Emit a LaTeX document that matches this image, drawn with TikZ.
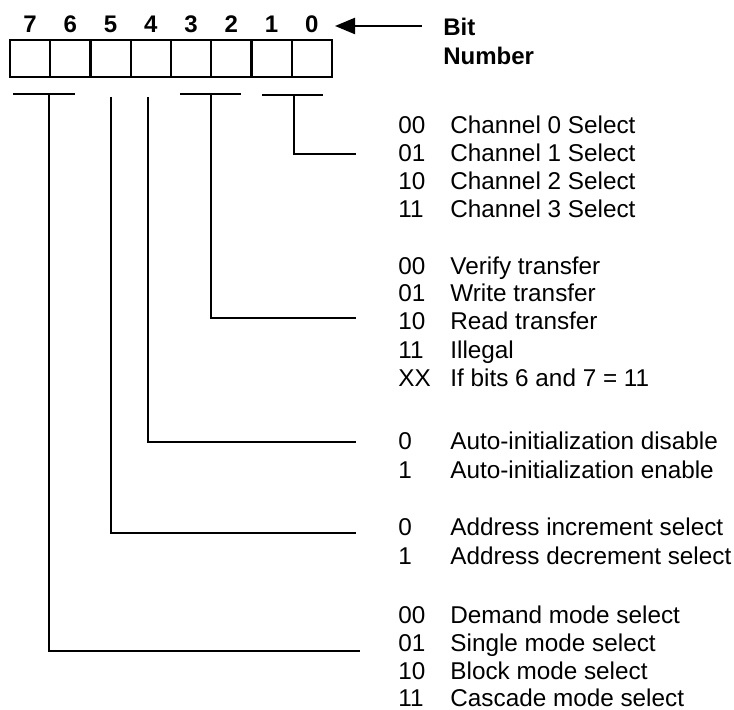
\documentclass[tikz,border=0pt]{standalone}
\usepackage{fontspec}
\setmainfont{Liberation Sans}
\usetikzlibrary{arrows.meta}
\begin{document}
\begin{tikzpicture}[x=0.5pt,y=-0.5pt,
  ln/.style={line width=1.15pt},
  cell/.style={draw,line width=1.05pt,minimum width=20.125pt,minimum height=18.5pt,inner sep=0pt},
  bitlbl/.style={font=\fontsize{12}{14}\selectfont\bfseries,anchor=base,inner sep=0pt},
  hdr/.style={font=\fontsize{12}{14}\selectfont\bfseries,anchor=base west,inner sep=0pt},
  txt/.style={font=\fontsize{12.15}{14}\selectfont,anchor=base west,inner sep=0pt},
  ]
\useasboundingbox (0,0) rectangle (734,710);
% register
\foreach \b [count=\i from 0] in {7,6,5,4,3,2,1,0}{
  \node[cell] (c\b) at ({30.125+40.25*\i},58.5) {};
  \node[bitlbl] (n\b) at ({30.125+40.25*\i},33) {\b};
}
% Bit Number label and arrow
\node[hdr] (bit) at (443,36) {Bit};
\node[hdr] (num) at (443,65) {Number};
\coordinate (arS) at (422,26);
\coordinate (arE) at (335,26);
\draw[ln,-{Triangle[length=10pt,width=8pt]}] (arS) -- (arE);
% texts
\newcommand\row[4]{%
  \node[txt] (k#1) at (398,#2) {#3};
  \node[txt] (d#1) at (450,#2) {#4};}
\row{a0}{134}{00}{Channel 0 Select}
\row{a1}{162}{01}{Channel 1 Select}
\row{a2}{190}{10}{Channel 2 Select}
\row{a3}{218}{11}{Channel 3 Select}
\row{b0}{275}{00}{Verify transfer}
\row{b1}{302}{01}{Write transfer}
\row{b2}{330}{10}{Read transfer}
\row{b3}{359}{11}{Illegal}
\row{b4}{387}{XX}{If bits 6 and 7 = 11}
\row{c0}{450}{0}{Auto-initialization disable}
\row{c1}{479}{1}{Auto-initialization enable}
\row{e0}{536}{0}{Address increment select}
\row{e1}{565}{1}{Address decrement select}
\row{f0}{624}{00}{Demand mode select}
\row{f1}{652}{01}{Single mode select}
\row{f2}{680}{10}{Block mode select}
\row{f3}{707}{11}{Cascade mode select}
% brackets and leader lines
\coordinate (b76L) at (13,94);  \coordinate (b76R) at (75,94);
\coordinate (b76) at (49,94);   \coordinate (b76c) at (49,651); \coordinate (b76e) at (360,651);
\coordinate (b5) at (111,97);   \coordinate (b5c) at (111,533); \coordinate (b5e) at (356,533);
\coordinate (b4) at (148,97);   \coordinate (b4c) at (148,442); \coordinate (b4e) at (356,442);
\coordinate (b32L) at (180,94); \coordinate (b32R) at (241,94);
\coordinate (b32) at (211,94);  \coordinate (b32c) at (211,318); \coordinate (b32e) at (356,318);
\coordinate (b10L) at (262,95); \coordinate (b10R) at (323,95);
\coordinate (b10) at (294,95);  \coordinate (b10c) at (294,154); \coordinate (b10e) at (356,154);
\draw[ln] (b76L) -- (b76R);
\draw[ln] (b32L) -- (b32R);
\draw[ln] (b10L) -- (b10R);
\draw[ln] (b76) -- (b76c) -- (b76e);
\draw[ln] (b5) -- (b5c) -- (b5e);
\draw[ln] (b4) -- (b4c) -- (b4e);
\draw[ln] (b32) -- (b32c) -- (b32e);
\draw[ln] (b10) -- (b10c) -- (b10e);
\end{tikzpicture}
\end{document}
